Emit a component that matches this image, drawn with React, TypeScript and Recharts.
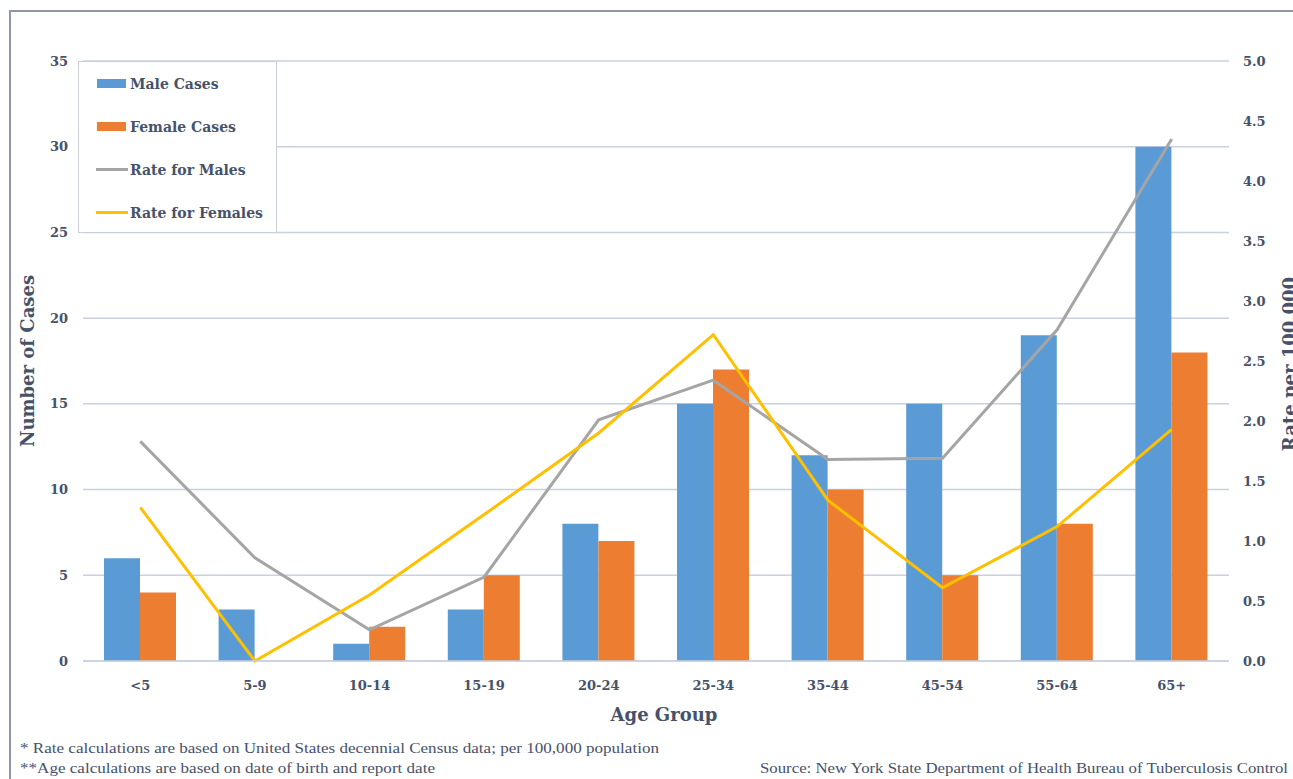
import * as React from 'react'
import { Bar, CartesianGrid, ComposedChart, Legend, Line, XAxis, YAxis } from 'recharts'

const ageGroups = ['<5', '5-9', '10-14', '15-19', '20-24', '25-34', '35-44', '45-54', '55-64', '65+']
const maleCases = [6, 3, 1, 3, 8, 15, 12, 15, 19, 30]
const femaleCases = [4, 0, 2, 5, 7, 17, 10, 5, 8, 18]
const maleRate = [1.83, 0.86, 0.26, 0.7, 2.01, 2.34, 1.68, 1.69, 2.76, 4.35]
const femaleRate = [1.28, 0.0, 0.55, 1.22, 1.9, 2.72, 1.34, 0.61, 1.12, 1.93]
const caseTicks = [0, 5, 10, 15, 20, 25, 30, 35]
const rateTicks = [0, 0.5, 1, 1.5, 2, 2.5, 3, 3.5, 4, 4.5, 5]
const legendOrder = ['Male Cases', 'Female Cases', 'Rate for Males', 'Rate for Females']

const COLORS = {
  male: '#5B9BD5',
  female: '#ED7D31',
  maleRate: '#A5A5A5',
  femaleRate: '#FFC000',
  grid: '#c9d0e0',
  text: '#46526a',
}

const SERIF = '"DejaVu Serif", "Liberation Serif", serif'
const NOTE_FONT = '"Liberation Serif", serif'

const tickStyle = { fill: COLORS.text, fontSize: 13, fontWeight: 700, fontFamily: SERIF }

function renderLegend(props: any) {
  const payload = [...(props.payload || [])].sort(
    (a: any, b: any) => legendOrder.indexOf(a.value) - legendOrder.indexOf(b.value)
  )
  return (
    <div
      style={{
        boxSizing: 'border-box',
        width: 199,
        height: 172,
        background: '#fff',
        border: '1px solid #c9ced8',
      }}
    >
      {payload.map((entry: any) => (
        <div
          key={entry.value}
          style={{ display: 'flex', alignItems: 'center', height: 43, paddingLeft: entry.type === 'line' ? 17 : 18 }}
        >
          {entry.type === 'line' ? (
            <div style={{ width: 32, height: 3, background: entry.color, marginRight: 2 }} />
          ) : (
            <div style={{ width: 29, height: 9, background: entry.color, marginRight: 4 }} />
          )}
          <span style={{ fontFamily: SERIF, fontWeight: 700, fontSize: 14, color: COLORS.text }}>{entry.value}</span>
        </div>
      ))}
    </div>
  )
}

export default function App() {
  const data = ageGroups.map((age, i) => ({
    age,
    maleCases: maleCases[i],
    femaleCases: femaleCases[i],
    maleRate: maleRate[i],
    femaleRate: femaleRate[i],
  }))

  return (
    <div style={{ position: 'absolute', left: 0, top: 0, width: 1293, height: 779, overflow: 'hidden', background: '#fff' }}>
      <div
        style={{
          position: 'absolute',
          left: 9,
          top: 10,
          width: 1320,
          height: 820,
          border: '2px solid #8e97a8',
        }}
      />
      <div style={{ position: 'absolute', left: 0, top: 0 }}>
        <ComposedChart
          width={1293}
          height={779}
          data={data}
          barSize={36}
          barGap={0}
          margin={{ top: 61, right: 0, bottom: 0, left: 0 }}
        >
          <CartesianGrid vertical={false} stroke={COLORS.grid} strokeWidth={1.5} yAxisId="cases" />
          <XAxis
            dataKey="age"
            height={118}
            tickLine={false}
            tickSize={0}
            tickMargin={20}
            axisLine={{ stroke: COLORS.grid, strokeWidth: 1.5 }}
            tick={tickStyle}
            interval={0}
            label={{
              content: () => (
                <text x={664} y={721} textAnchor="middle" fill={COLORS.text} fontFamily={SERIF} fontWeight={700} fontSize={18}>
                  Age Group
                </text>
              ),
            }}
          />
          <YAxis
            yAxisId="cases"
            orientation="left"
            width={83}
            domain={[0, 35]}
            ticks={caseTicks}
            tickLine={false}
            axisLine={false}
            tickSize={0}
            tickMargin={15}
            tick={tickStyle}
            label={{
              content: () => (
                <text
                  x={34}
                  y={361}
                  transform="rotate(-90 34 361)"
                  textAnchor="middle"
                  fill={COLORS.text}
                  fontFamily={SERIF}
                  fontWeight={700}
                  fontSize={18}
                >
                  Number of Cases
                </text>
              ),
            }}
          />
          <YAxis
            yAxisId="rate"
            orientation="right"
            width={64}
            domain={[0, 5]}
            ticks={rateTicks}
            tickFormatter={(v: number) => v.toFixed(1)}
            tickLine={false}
            axisLine={false}
            tickSize={0}
            tickMargin={14}
            tick={tickStyle}
            label={{
              content: () => (
                <text
                  x={1296}
                  y={364}
                  transform="rotate(-90 1296 364)"
                  textAnchor="middle"
                  fill={COLORS.text}
                  fontFamily={SERIF}
                  fontWeight={700}
                  fontSize={18}
                >
                  Rate per 100,000
                </text>
              ),
            }}
          />
          <Legend
            layout="vertical"
            align="center"
            verticalAlign="middle"
            content={renderLegend}
            wrapperStyle={{ left: 78, top: 61, width: 199, height: 172 }}
          />
          <Bar yAxisId="cases" dataKey="maleCases" name="Male Cases" fill={COLORS.male} isAnimationActive={false} />
          <Bar yAxisId="cases" dataKey="femaleCases" name="Female Cases" fill={COLORS.female} isAnimationActive={false} />
          <Line
            yAxisId="rate"
            type="linear"
            dataKey="maleRate"
            name="Rate for Males"
            stroke={COLORS.maleRate}
            strokeWidth={3}
            dot={false}
            isAnimationActive={false}
          />
          <Line
            yAxisId="rate"
            type="linear"
            dataKey="femaleRate"
            name="Rate for Females"
            stroke={COLORS.femaleRate}
            strokeWidth={3}
            dot={false}
            isAnimationActive={false}
          />
        </ComposedChart>
      </div>
      <svg width={1293} height={779} style={{ position: 'absolute', left: 0, top: 0, pointerEvents: 'none' }}>
        <g style={{ fill: COLORS.text, fontFamily: NOTE_FONT, fontSize: 15 }}>
          <text x={20} y={753} textLength={639} lengthAdjust="spacingAndGlyphs">
            * Rate calculations are based on United States decennial Census data; per 100,000 population
          </text>
          <text x={20} y={773} textLength={415} lengthAdjust="spacingAndGlyphs">
            **Age calculations are based on date of birth and report date
          </text>
          <text x={760} y={773} textLength={528} lengthAdjust="spacingAndGlyphs">
            Source: New York State Department of Health Bureau of Tuberculosis Control
          </text>
        </g>
      </svg>
    </div>
  )
}
